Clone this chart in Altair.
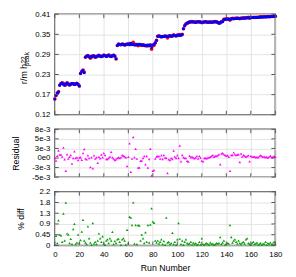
import altair as alt
import pandas as pd

runs = list(range(181))

fit = [
    0.161, 0.172, 0.178, 0.181, 0.201, 0.206, 0.208, 0.204, 0.202, 0.206,
    0.208, 0.205, 0.202, 0.204, 0.207, 0.206, 0.203, 0.205, 0.207, 0.204,
    0.199, 0.236, 0.242, 0.245, 0.238, 0.284, 0.287, 0.288, 0.285, 0.283,
    0.286, 0.288, 0.287, 0.284, 0.285, 0.288, 0.289, 0.287, 0.285, 0.287,
    0.289, 0.288, 0.286, 0.288, 0.290, 0.287, 0.285, 0.288, 0.290, 0.287,
    0.279, 0.318, 0.322, 0.321, 0.320, 0.322, 0.321, 0.319, 0.321, 0.323,
    0.322, 0.320, 0.325, 0.321, 0.322, 0.320, 0.319, 0.321, 0.320, 0.322,
    0.321, 0.319, 0.320, 0.318, 0.319, 0.317, 0.320, 0.318, 0.318, 0.312,
    0.320, 0.322, 0.326, 0.333, 0.345, 0.346, 0.345, 0.343, 0.345, 0.344,
    0.346, 0.345, 0.344, 0.346, 0.347, 0.345, 0.346, 0.348, 0.347, 0.346,
    0.348, 0.349, 0.347, 0.349, 0.350, 0.367, 0.376, 0.381, 0.384, 0.386,
    0.387, 0.387, 0.388, 0.387, 0.387, 0.386, 0.387, 0.388, 0.387, 0.387,
    0.386, 0.387, 0.387, 0.388, 0.387, 0.386, 0.387, 0.387, 0.386, 0.387,
    0.387, 0.388, 0.387, 0.386, 0.383, 0.386, 0.387, 0.388, 0.394, 0.395,
    0.395, 0.396, 0.395, 0.396, 0.396, 0.397, 0.396, 0.397, 0.397, 0.398,
    0.397, 0.398, 0.398, 0.398, 0.399, 0.398, 0.399, 0.399, 0.400, 0.399,
    0.400, 0.400, 0.400, 0.401, 0.400, 0.401, 0.401, 0.401, 0.402, 0.401,
    0.402, 0.402, 0.402, 0.402, 0.403, 0.402, 0.403, 0.403, 0.403, 0.404, 0.404,
]

residual = [
    0.0000, -0.0007, 0.0006, 0.0020, 0.0009, 0.0009, 0.0004, 0.0028, -0.0004, -0.0035,
    0.0010, -0.0002, 0.0003, 0.0008, -0.0015, 0.0000, 0.0018, 0.0000, 0.0002, -0.0006,
    0.0001, 0.0002, -0.0005, 0.0013, 0.0024, -0.0002, -0.0004, 0.0007, 0.0000, -0.0025,
    0.0002, -0.0028, 0.0007, -0.0002, 0.0002, -0.0013, 0.0003, -0.0001, 0.0009, 0.0002,
    0.0013, 0.0008, -0.0003, -0.0003, 0.0000, 0.0004, 0.0017, 0.0002, -0.0002, -0.0006,
    -0.0004, 0.0000, 0.0002, 0.0000, 0.0002, 0.0008, 0.0006, 0.0004, 0.0002, -0.0022,
    0.0003, 0.0040, -0.0038, -0.0002, 0.0057, 0.0002, 0.0025, -0.0002, -0.0026, -0.0026,
    -0.0008, -0.0007, 0.0000, 0.0005, -0.0017, 0.0005, -0.0026, -0.0003, 0.0025, -0.0048,
    -0.0035, -0.0033, -0.0002, 0.0004, 0.0005, 0.0005, -0.0002, 0.0007, -0.0003, 0.0008,
    0.0001, 0.0000, -0.0041, -0.0004, -0.0006, 0.0000, -0.0003, 0.0020, 0.0004, 0.0000,
    0.0007, 0.0000, 0.0034, -0.0009, 0.0008, 0.0002, 0.0000, 0.0000, -0.0008, -0.0010,
    0.0006, 0.0002, 0.0004, 0.0001, -0.0001, 0.0001, 0.0005, -0.0002, 0.0005, 0.0001,
    -0.0008, -0.0009, 0.0000, 0.0000, -0.0001, 0.0001, 0.0002, 0.0003, 0.0005, 0.0008,
    0.0003, 0.0006, 0.0005, 0.0007, 0.0010, -0.0017, 0.0012, 0.0013, 0.0010, 0.0008,
    0.0006, 0.0007, 0.0003, -0.0035, 0.0008, 0.0008, 0.0015, 0.0010, 0.0008, 0.0009,
    0.0010, -0.0011, 0.0012, 0.0004, 0.0008, 0.0006, 0.0003, 0.0005, 0.0007, -0.0009,
    0.0006, 0.0004, 0.0003, 0.0004, 0.0002, 0.0003, 0.0002, 0.0005, 0.0007, 0.0005,
    0.0003, 0.0004, 0.0002, 0.0003, 0.0001, 0.0004, 0.0006, 0.0002, 0.0003, 0.0005, 0.0003,
]

pct_diff = [
    0.02, 0.40, 0.10, 1.05, 0.45, 0.42, 0.15, 1.33, 0.20, 1.79,
    0.50, 0.45, 0.10, 0.27, 0.05, 0.68, 0.90, 0.05, 0.12, 0.45,
    0.10, 0.22, 0.58, 1.07, 0.20, 0.12, 0.05, 0.80, 0.30, 0.12,
    0.02, 0.94, 0.08, 0.15, 0.05, 0.20, 0.50, 0.30, 0.15, 0.38,
    0.08, 0.02, 0.20, 0.25, 0.10, 0.30, 0.20, 0.57, 0.05, 0.18,
    0.10, 0.25, 0.28, 0.15, 0.02, 0.25, 0.30, 0.20, 0.03, 0.65,
    0.10, 1.20, 1.17, 0.85, 1.80, 0.08, 0.85, 0.05, 0.85, 0.83,
    0.20, 0.45, 0.30, 0.10, 0.55, 0.15, 0.85, 0.12, 0.87, 1.55,
    1.00, 0.95, 0.20, 0.12, 0.20, 0.08, 0.15, 0.25, 0.05, 0.18,
    0.02, 1.17, 0.12, 0.15, 0.05, 0.10, 0.53, 0.05, 0.15, 0.02,
    0.25, 0.94, 0.28, 0.05, 0.20, 0.02, 0.15, 0.25, 0.10, 0.05,
    0.08, 0.15, 0.03, 0.12, 0.05, 0.10, 0.02, 0.05, 0.15, 0.03,
    0.30, 0.05, 0.02, 0.08, 0.10, 0.05, 0.03, 0.12, 0.05, 0.08,
    0.02, 0.05, 0.10, 0.08, 0.10, 0.35, 0.05, 0.12, 0.20, 0.03,
    0.05, 0.10, 0.08, 0.85, 0.35, 0.12, 0.20, 0.25, 0.15, 0.08,
    0.20, 0.10, 0.05, 0.12, 0.15, 0.08, 0.25, 0.30, 0.10, 0.05,
    0.02, 0.10, 0.15, 0.05, 0.08, 0.12, 0.03, 0.05, 0.10, 0.02,
    0.08, 0.05, 0.15, 0.02, 0.10, 0.05, 0.12, 0.03, 0.08, 0.15, 0.05,
]

x_ticks = [0, 20, 40, 60, 80, 100, 120, 140, 160, 180]
top_tick_vals = [0.115, 0.174, 0.233, 0.292, 0.351, 0.41]
top_tick_labels = ["0.12", "0.17", "0.23", "0.29", "0.35", "0.41"]
res_tick_vals = [-0.0052, -0.0026, 0.0, 0.0026, 0.0052, 0.0078]
res_tick_labels = ["-5e-3", "-3e-3", "0e0", "3e-3", "5e-3", "8e-3"]
pct_tick_vals = [0.0, 0.45, 0.9, 1.35, 1.8, 2.25]
pct_tick_labels = ["0", "0.45", "0.9", "1.3", "1.8", "2.2"]

W = 226
H_TOP, H_MID, H_BOT = 103, 49, 55
FRAME = "#555555"
FONT = "Liberation Sans"

df = pd.DataFrame({"run": runs, "fit": fit, "resid": residual, "pct": pct_diff})
df["meas"] = df["fit"] + df["resid"]


def label_expr(vals, labels, tol):
    s = ""
    for v, l in zip(vals, labels):
        s += f"abs(datum.value - ({v})) < {tol} ? '{l}' : "
    return s + "''"


xscale = alt.Scale(domain=[0, 180], nice=False, zero=False)
x_axis_hidden = alt.Axis(values=x_ticks, labels=False, ticks=False, domain=False,
                         grid=True, title=None)
x_axis_shown = alt.Axis(values=x_ticks, ticks=False, domain=False, grid=True,
                        labelFlush=False, labelPadding=5, title="Run Number",
                        titlePadding=6)


def panel(point_layers, yfield, yscale, yaxis, yvals, xaxis, H):
    xt = pd.DataFrame({"run": x_ticks})
    yt = pd.DataFrame({yfield: yvals})
    xs = alt.X("run:Q", scale=xscale, axis=xaxis)
    ys = alt.Y(f"{yfield}:Q", scale=yscale, axis=yaxis)
    layers = list(point_layers)
    layers.append(alt.Chart(xt).mark_rule(color=FRAME, strokeWidth=1)
                  .encode(x=xs, y=alt.value(0), y2=alt.value(4)))
    layers.append(alt.Chart(xt).mark_rule(color=FRAME, strokeWidth=1)
                  .encode(x=xs, y=alt.value(H - 4), y2=alt.value(H)))
    layers.append(alt.Chart(yt).mark_rule(color=FRAME, strokeWidth=1)
                  .encode(y=ys, x=alt.value(0), x2=alt.value(4)))
    layers.append(alt.Chart(yt).mark_rule(color=FRAME, strokeWidth=1)
                  .encode(y=ys, x=alt.value(W - 4), x2=alt.value(W)))
    return layers


# ---- top panel
top_scale = alt.Scale(domain=[0.115, 0.41], nice=False, zero=False)
top_axis = alt.Axis(values=top_tick_vals, labelExpr=label_expr(top_tick_vals, top_tick_labels, 1e-6),
                    ticks=False, domain=False, grid=True, title=None, labelPadding=5)
red = alt.Chart(df).mark_circle(color="#ff0000", size=13, opacity=1).encode(
    x=alt.X("run:Q", scale=xscale, axis=x_axis_hidden),
    y=alt.Y("meas:Q", scale=top_scale, axis=top_axis))
blue = alt.Chart(df).transform_calculate(meas="datum.fit").mark_square(
    color="#0000ff", size=7, opacity=1).encode(
    x=alt.X("run:Q", scale=xscale, axis=x_axis_hidden),
    y=alt.Y("meas:Q", scale=top_scale, axis=top_axis))
one = pd.DataFrame({"a": [0]})
t1 = alt.Chart(one).mark_text(text="r/m h", angle=270, align="right", baseline="alphabetic",
                              fontSize=9, font=FONT).encode(x=alt.value(-28.5), y=alt.value(51))
t2 = alt.Chart(one).mark_text(text="22", angle=270, align="left", baseline="alphabetic",
                              fontSize=6.5, font=FONT).encode(x=alt.value(-30), y=alt.value(50.5))
t3 = alt.Chart(one).mark_text(text="peak", angle=270, align="left", baseline="alphabetic",
                              fontSize=6.5, font=FONT).encode(x=alt.value(-26), y=alt.value(53))
top = alt.layer(*panel([red, blue], "meas", top_scale, top_axis, top_tick_vals,
                       x_axis_hidden, H_TOP), t1, t2, t3).properties(width=W, height=H_TOP)

# ---- residual panel
res_scale = alt.Scale(domain=[-0.0052, 0.0078], nice=False, zero=False)
res_axis = alt.Axis(values=res_tick_vals, labelExpr=label_expr(res_tick_vals, res_tick_labels, 1e-7),
                    ticks=False, domain=False, grid=True, title="Residual", labelPadding=5,
                    titlePadding=12)
mid_pts = alt.Chart(df).mark_point(shape="triangle-up", filled=True, color="#ff00ff",
                                   size=7, opacity=1).encode(
    x=alt.X("run:Q", scale=xscale, axis=x_axis_hidden),
    y=alt.Y("resid:Q", scale=res_scale, axis=res_axis))
mid = alt.layer(*panel([mid_pts], "resid", res_scale, res_axis, res_tick_vals,
                       x_axis_hidden, H_MID)).properties(width=W, height=H_MID)

# ---- percent diff panel
pct_scale = alt.Scale(domain=[0, 2.25], nice=False, zero=False)
pct_axis = alt.Axis(values=pct_tick_vals, labelExpr=label_expr(pct_tick_vals, pct_tick_labels, 1e-6),
                    ticks=False, domain=False, grid=True, title="% diff", labelPadding=5,
                    titlePadding=10)
bot_pts = alt.Chart(df).mark_point(shape="triangle-up", filled=True, color="#00a000",
                                   size=7, opacity=1).encode(
    x=alt.X("run:Q", scale=xscale, axis=x_axis_shown),
    y=alt.Y("pct:Q", scale=pct_scale, axis=pct_axis))
bot = alt.layer(*panel([bot_pts], "pct", pct_scale, pct_axis, pct_tick_vals,
                       x_axis_shown, H_BOT)).properties(width=W, height=H_BOT)

chart = alt.vconcat(top, mid, bot, spacing=15, bounds="flush").properties(
    padding={"left": 2, "top": -2, "right": 5, "bottom": 0}
).configure_view(stroke=FRAME, strokeWidth=1.5).configure_axis(
    labelFont=FONT, labelFontSize=8, labelColor="#000000",
    titleFont=FONT, titleFontSize=9, titleFontWeight="normal", titleColor="#000000",
    gridColor="#e3e3e3", gridWidth=1
)

chart.save("out.html", embed_options={"renderer": "svg", "actions": False})
